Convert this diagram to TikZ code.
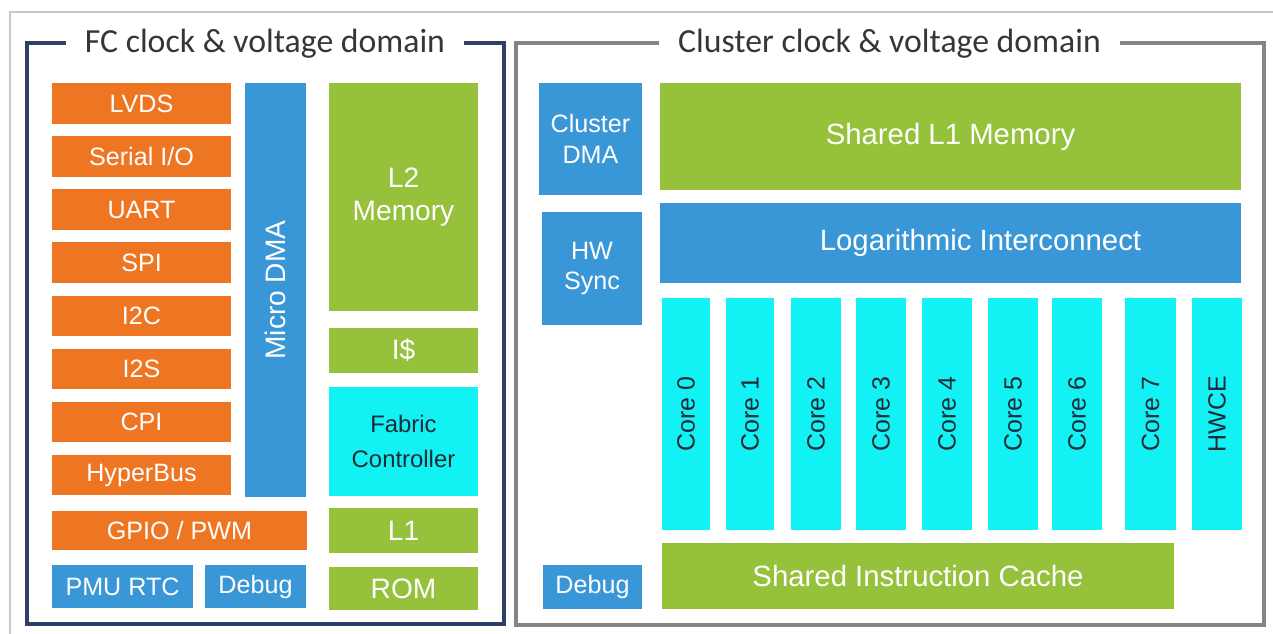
\documentclass[tikz,border=0pt]{standalone}
\usepackage{fontspec}
\setmainfont{Liberation Sans}
\newfontfamily\titlefont{Carlito}

\definecolor{orng}{HTML}{EE7521}
\definecolor{grn}{HTML}{95C13B}
\definecolor{blu}{HTML}{3A97D7}
\definecolor{cyn}{HTML}{12F2F4}
\definecolor{navy}{HTML}{2F4066}
\definecolor{domgray}{HTML}{858585}
\definecolor{framegray}{HTML}{C8C8C8}
\definecolor{ttl}{HTML}{363636}
\definecolor{darktxt}{HTML}{1E2A36}

% box from pixel corners (x1,y1)-(x2,y2): name, x1, y1, x2, y2, style, text
\newcommand\putbox[7]{%
  \node[#6, minimum width={(#4-#2)*0.02cm}, minimum height={(#5-#3)*0.02cm}]
    (#1) at ({(#2+#4)/2},{(#3+#5)/2}) {#7};}

\tikzset{
  blk/.style={rectangle, inner sep=0pt, align=center, text=white},
  io/.style={blk, fill=orng, font=\fontsize{14.3}{17}\selectfont},
  mem/.style={blk, fill=grn, font=\fontsize{16}{19}\selectfont},
  bigmem/.style={blk, fill=grn, font=\fontsize{16.7}{20}\selectfont},
  ctl/.style={blk, fill=blu, font=\fontsize{14.3}{17.5}\selectfont},
  cpu/.style={blk, fill=cyn, text=darktxt, font=\fontsize{13.6}{20}\selectfont},
  vlabel/.style={rotate=90, inner sep=0pt, text=#1},
  dom/.style={rectangle, draw=#1, line width=2.2pt, inner sep=0pt},
  domtitle/.style={fill=white, text=ttl, inner xsep=11pt, inner ysep=2pt,
    font=\titlefont\fontsize{19.2}{22}\selectfont},
}

\begin{document}
\begin{tikzpicture}[x=0.02cm, y=-0.02cm]
\useasboundingbox (0,0) rectangle (1273,634);

% outer frame
\draw[framegray, line width=1.1pt] (1273,12) -- (10,12) -- (10,634);

% clock & voltage domains
\putbox{fcdom}{27}{43}{504}{624}{dom=navy}{}
\putbox{cldom}{516}{43}{1264}{625}{dom=domgray}{}
\node[domtitle, anchor=base] (fctitle) at (265,53) {FC clock \& voltage domain};
\node[domtitle, anchor=base] (cltitle) at (889.5,53) {Cluster clock \& voltage domain};

% FC domain: peripherals
\putbox{lvds}{52}{83}{231}{124}{io}{LVDS}
\putbox{serio}{52}{136}{231}{177}{io}{Serial I/O}
\putbox{uart}{52}{189}{231}{230}{io}{UART}
\putbox{spi}{52}{242}{231}{283}{io}{SPI}
\putbox{itc}{52}{296}{231}{336}{io}{I2C}
\putbox{its}{52}{349}{231}{389}{io}{I2S}
\putbox{cpi}{52}{402}{231}{442}{io}{CPI}
\putbox{hbus}{52}{455}{231}{495}{io}{HyperBus}
\putbox{gpio}{52}{511}{307}{550}{io}{GPIO / PWM}
\putbox{pmu}{52}{565}{193}{608}{ctl}{PMU RTC}
\putbox{fcdbg}{205}{565}{306}{608}{ctl}{Debug}

% FC domain: micro DMA
\putbox{udma}{245}{83}{306}{497}{ctl}{}
\node[vlabel=white, font=\fontsize{16}{19}\selectfont] (udmatxt) at (udma.center) {Micro DMA};

% FC domain: memories and fabric controller
\putbox{ltwo}{329}{83}{478}{311}{mem}{L2\\Memory}
\putbox{icache}{329}{328}{478}{373}{mem}{I\$}
\putbox{fc}{329}{387}{478}{496}{cpu}{Fabric\\Controller}
\putbox{lone}{329}{508}{478}{553}{mem}{L1}
\putbox{rom}{329}{567}{478}{610}{mem}{ROM}

% cluster domain
\putbox{cdma}{539}{83}{642}{195}{ctl}{Cluster\\DMA}
\putbox{hwsync}{542}{212}{642}{325}{ctl}{HW\\Sync}
\putbox{cldbg}{543}{565}{642}{609}{ctl}{Debug}
\putbox{shl}{660}{83}{1241}{190}{bigmem}{Shared L1 Memory}
\putbox{logi}{660}{203}{1241}{283}{ctl}{}
\node[text=white, inner sep=0pt, font=\fontsize{16.7}{20}\selectfont]
  (logitxt) at ([xshift=0.6cm]logi.center) {Logarithmic Interconnect};
\putbox{sic}{662}{543}{1174}{609}{bigmem}{Shared Instruction Cache}

% cores and accelerator
\foreach \nm/\xa/\xb/\lab in {c0/662/710/Core 0, c1/726/774/Core 1,
    c2/791/841/Core 2, c3/856/906/Core 3, c4/922/972/Core 4,
    c5/988/1038/Core 5, c6/1052/1102/Core 6, c7/1125/1176/Core 7,
    hwce/1192/1242/HWCE}{
  \putbox{\nm}{\xa}{298}{\xb}{530}{cpu}{}
  \node[vlabel=darktxt, font=\fontsize{14.2}{17}\selectfont] (\nm txt) at (\nm.center) {\lab};
}
\end{tikzpicture}
\end{document}
